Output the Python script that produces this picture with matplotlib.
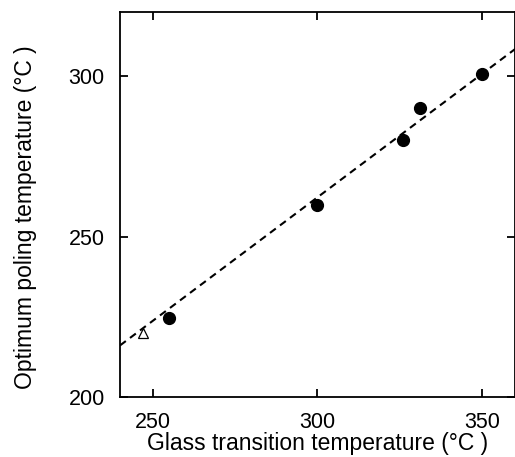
import matplotlib
matplotlib.use("Agg")
import matplotlib.pyplot as plt
import numpy as np

plt.rcParams['font.family'] = ['Liberation Sans', 'DejaVu Sans']

tg_filled = [255, 300, 326, 331, 350]
tp_filled = [224.5, 260, 280, 290, 300.5]
tg_open = [247]
tp_open = [220]
fit_x = [240, 360]
fit_y = [216.1, 308.4]

fig = plt.figure(figsize=(5.15, 4.57), dpi=100)
ax = fig.add_axes([0.233, 0.131, 0.767, 0.843])

ax.plot(fit_x, fit_y, ls=(0, (3.5, 2.5)), color='black', lw=1.5)
ax.plot(tg_filled, tp_filled, 'o', color='black', markersize=8.5)
ax.plot(tg_open, tp_open, '^', markerfacecolor='white', markeredgecolor='black',
        markersize=7, markeredgewidth=0.9)

ax.set_xlim(240, 360)
ax.set_ylim(200, 320)
ax.set_xticks([250, 300, 350])
ax.set_yticks([200, 250, 300])
ax.tick_params(direction='in', length=6, width=1.3, labelsize=15.5,
               top=True, right=True)
ax.tick_params(axis='x', pad=11)
ax.tick_params(axis='y', pad=11)
for s in ax.spines.values():
    s.set_linewidth(1.3)

ax.set_xlabel('Glass transition temperature (°C )', fontsize=16.5, labelpad=-1)
ax.set_ylabel('Optimum poling temperature (°C )', fontsize=16.5)
ax.yaxis.set_label_coords(-0.21, 0.466)

fig.savefig('out.png', dpi=100)
